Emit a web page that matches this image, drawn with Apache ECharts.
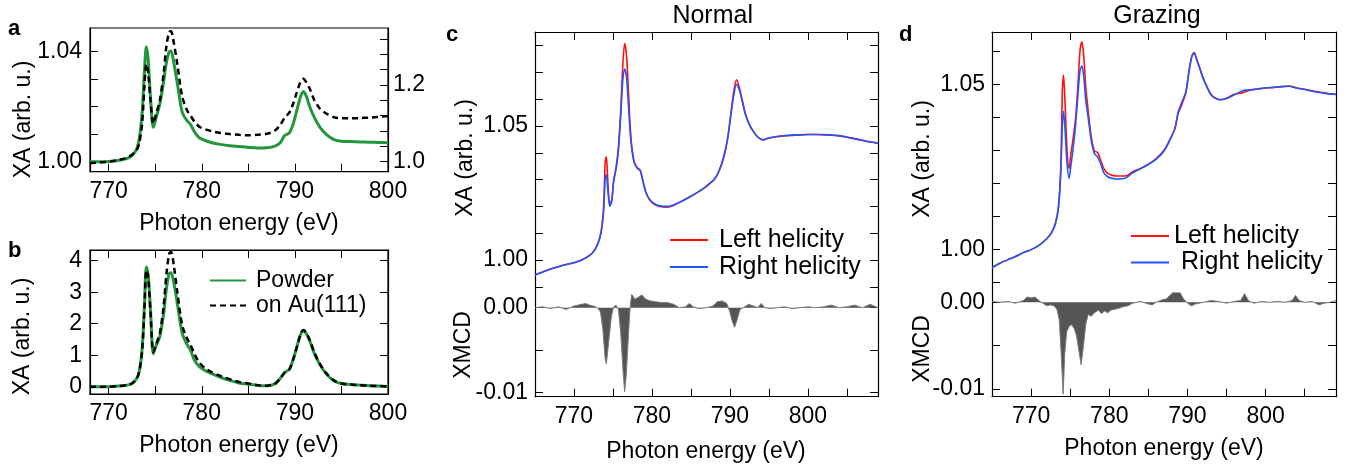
<!DOCTYPE html>
<html>
<head>
<meta charset="utf-8">
<script src="https://cdn.jsdelivr.net/npm/echarts@6/dist/echarts.min.js"></script>
<style>
html,body{margin:0;padding:0;background:#fff}
#chart{width:1351px;height:466px}
</style>
</head>
<body>
<div id="chart"></div>
<script>
// ---- panels a / b : powder vs monolayer on Au(111) ----
var abEnergy = [
  768, 769, 770, 771, 772,
  772.5, 773, 773.3, 773.6, 773.85,
  774.05, 774.25, 774.5, 774.8, 775.1,
  775.5, 775.9, 776.2, 776.5, 776.7,
  777.0, 777.4, 777.9, 778.4, 778.8,
  779.2, 779.7, 780.3, 781, 782,
  783, 784, 785, 786, 787,
  787.8, 788.4, 788.9, 789.4, 789.8,
  790.2, 790.6, 790.9, 791.2, 791.6,
  792.1, 792.7, 793.4, 794.2, 795,
  796, 797, 798, 799, 800
];
var aPowder = [
  1.0000, 1.0000, 1.0001, 1.0004, 1.0012,
  1.0022, 1.0045, 1.0085, 1.0180, 1.0330,
  1.0418, 1.0370, 1.0230, 1.0125, 1.0160,
  1.0210, 1.0290, 1.0360, 1.0400, 1.0403,
  1.0360, 1.0280, 1.0180, 1.0150, 1.0135,
  1.0110, 1.0088, 1.0078, 1.0070, 1.0063,
  1.0058, 1.0055, 1.0052, 1.0050, 1.0051,
  1.0056, 1.0068, 1.0095, 1.0105, 1.0135,
  1.0185, 1.0235, 1.0255, 1.0240, 1.0200,
  1.0160, 1.0125, 1.0098, 1.0080, 1.0074,
  1.0073, 1.0072, 1.0071, 1.0070, 1.0069
];
var aAu = [
  0.996, 0.998, 1.000, 1.004, 1.011,
  1.018, 1.030, 1.050, 1.100, 1.200,
  1.255, 1.230, 1.160, 1.100, 1.125,
  1.160, 1.230, 1.300, 1.338, 1.340,
  1.310, 1.250, 1.170, 1.135, 1.120,
  1.105, 1.092, 1.085, 1.080, 1.075,
  1.072, 1.070, 1.069, 1.070, 1.073,
  1.080, 1.095, 1.115, 1.128, 1.150,
  1.180, 1.208, 1.216, 1.208, 1.190,
  1.160, 1.138, 1.125, 1.116, 1.113,
  1.113, 1.114, 1.115, 1.117, 1.119
];
var bPowder = [
  0.00, 0.00, 0.00, 0.02, 0.05,
  0.10, 0.25, 0.50, 1.20, 2.60,
  3.80, 3.55, 2.40, 1.05, 1.30,
  1.60, 2.30, 3.10, 3.60, 3.62,
  3.30, 2.60, 1.70, 1.35, 1.15,
  0.85, 0.65, 0.52, 0.42, 0.30,
  0.20, 0.12, 0.08, 0.04, 0.03,
  0.08, 0.25, 0.45, 0.55, 0.85,
  1.25, 1.65, 1.78, 1.70, 1.45,
  1.05, 0.70, 0.40, 0.18, 0.10,
  0.07, 0.05, 0.03, 0.02, 0.01
];
var bAu = [
  0.00, 0.00, 0.00, 0.02, 0.05,
  0.10, 0.25, 0.50, 1.15, 2.50,
  3.70, 3.45, 2.35, 1.10, 1.35,
  1.70, 2.55, 3.55, 4.22, 4.28,
  3.85, 2.95, 1.95, 1.55, 1.32,
  1.05, 0.78, 0.60, 0.47, 0.34,
  0.24, 0.15, 0.10, 0.05, 0.03,
  0.08, 0.25, 0.45, 0.55, 0.85,
  1.25, 1.65, 1.80, 1.72, 1.48,
  1.08, 0.72, 0.42, 0.20, 0.10,
  0.07, 0.05, 0.03, 0.02, 0.01
];

// ---- panel c : normal incidence ----
var cEnergy = [
  765, 766, 767, 768, 769,
  770, 771, 772, 772.6, 773.1,
  773.5, 773.8, 774.0, 774.15, 774.35,
  774.6, 774.85, 775.1, 775.4, 775.7,
  776.0, 776.25, 776.5, 776.75, 777.0,
  777.3, 777.7, 778.1, 778.5, 778.8,
  779.2, 779.7, 780.3, 781, 782,
  783, 784, 785, 786, 787,
  788, 788.6, 789.2, 789.7, 790.1,
  790.5, 790.85, 791.2, 791.6, 792.0,
  792.5, 793, 793.6, 794.2, 795,
  796, 797, 798, 799, 800,
  801, 802, 803, 804, 805,
  806, 807, 808, 809
];
var cLeft = [
  0.9944, 0.9955, 0.9966, 0.9975, 0.9983,
  0.9990, 1.0000, 1.0017, 1.0035, 1.0065,
  1.0110, 1.0200, 1.0360, 1.0385, 1.0290,
  1.0205, 1.0225, 1.0300, 1.0345, 1.0420,
  1.0560, 1.0720, 1.0808, 1.0760, 1.0620,
  1.0460, 1.0370, 1.0345, 1.0335, 1.0300,
  1.0255, 1.0225, 1.0208, 1.0200, 1.0197,
  1.0207, 1.0222, 1.0238, 1.0255, 1.0275,
  1.0300, 1.0330, 1.0380, 1.0450, 1.0540,
  1.0630, 1.0672, 1.0645, 1.0595, 1.0545,
  1.0505, 1.0480, 1.0458, 1.0448, 1.0455,
  1.0460, 1.0463, 1.0465, 1.0467, 1.0468,
  1.0468, 1.0467, 1.0466, 1.0463, 1.0458,
  1.0452, 1.0446, 1.0440, 1.0435
];
var cRight = [
  0.9944, 0.9955, 0.9966, 0.9975, 0.9983,
  0.9990, 1.0000, 1.0017, 1.0035, 1.0063,
  1.0105, 1.0180, 1.0300, 1.0318, 1.0260,
  1.0200, 1.0220, 1.0295, 1.0340, 1.0410,
  1.0540, 1.0665, 1.0712, 1.0680, 1.0570,
  1.0445, 1.0365, 1.0343, 1.0333, 1.0300,
  1.0255, 1.0226, 1.0210, 1.0202, 1.0200,
  1.0208, 1.0222, 1.0238, 1.0255, 1.0276,
  1.0302, 1.0333, 1.0385, 1.0452, 1.0535,
  1.0615, 1.0655, 1.0635, 1.0590, 1.0542,
  1.0505, 1.0480, 1.0458, 1.0449, 1.0455,
  1.0461, 1.0464, 1.0466, 1.0467, 1.0468,
  1.0468, 1.0468, 1.0466, 1.0464, 1.0459,
  1.0453, 1.0447, 1.0441, 1.0436
];
var cXmcdEnergy = [
  765, 766, 767, 768, 769,
  770, 771, 771.5, 772, 772.5,
  773, 773.4, 773.7, 774.0, 774.15,
  774.4, 774.8, 775.1, 775.4, 775.7,
  776.0, 776.3, 776.5, 776.7, 777.0,
  777.2, 777.4, 777.8, 778.2, 778.7,
  779.2, 779.8, 780.5, 781.2, 782,
  782.8, 783.5, 784.3, 784.8, 785.3,
  786, 787, 787.8, 788.4, 789,
  789.6, 790.0, 790.3, 790.6, 790.9,
  791.3, 791.7, 792.4, 793, 793.6,
  794, 794.5, 795.2, 796, 797,
  798, 799, 800, 801, 802,
  803, 804, 805, 806, 807,
  808, 809
];
var cXmcd = [
  0.0000, 0.0001, -0.0001, 0.0001, -0.0002,
  0.0002, 0.0004, 0.0005, 0.0003, 0.0002,
  0.0000, -0.0005, -0.0025, -0.0060, -0.0066,
  -0.0045, -0.0010, 0.0001, 0.0003, -0.0002,
  -0.0030, -0.0075, -0.0099, -0.0080, -0.0030,
  0.0000, 0.0016, 0.0010, 0.0012, 0.0015,
  0.0010, 0.0008, 0.0007, 0.0006, 0.0006,
  0.0004, 0.0000, 0.0001, 0.0005, 0.0001,
  -0.0001, 0.0000, 0.0002, 0.0007, 0.0008,
  0.0005, -0.0005, -0.0016, -0.0023, -0.0015,
  -0.0002, 0.0000, 0.0004, 0.0002, 0.0000,
  0.0005, 0.0000, -0.0001, 0.0000, 0.0001,
  -0.0001, 0.0000, 0.0001, 0.0000, 0.0001,
  0.0003, 0.0000, 0.0001, 0.0003, 0.0000,
  0.0004, 0.0000
];

// ---- panel d : grazing incidence ----
var dEnergy = [
  765, 766, 767, 768, 769,
  770, 771, 772, 772.6, 773.1,
  773.5, 773.8, 774.0, 774.15, 774.35,
  774.6, 774.85, 775.1, 775.4, 775.7,
  776.0, 776.25, 776.5, 776.75, 777.0,
  777.3, 777.7, 778.1, 778.5, 778.9,
  779.3, 779.8, 780.4, 781, 782,
  783, 784, 785, 786, 787,
  787.8, 788.4, 788.8, 789.3, 789.8,
  790.2, 790.55, 790.85, 791.2, 791.6,
  792.0, 792.5, 793, 793.6, 794.2,
  795, 796, 797, 798, 799,
  800, 801, 802, 803, 804,
  805, 806, 807, 808, 809
];
var dLeft = [
  0.9944, 0.9958, 0.9968, 0.9978, 0.9990,
  0.9999, 1.0012, 1.0032, 1.0050, 1.0078,
  1.0130, 1.0250, 1.0480, 1.0528, 1.0440,
  1.0300, 1.0245, 1.0290, 1.0340, 1.0400,
  1.0500, 1.0600, 1.0629, 1.0580, 1.0490,
  1.0420, 1.0340, 1.0298, 1.0294, 1.0270,
  1.0245, 1.0230, 1.0224, 1.0222, 1.0222,
  1.0235, 1.0245, 1.0258, 1.0275, 1.0300,
  1.0335, 1.0365, 1.0410, 1.0440, 1.0475,
  1.0540, 1.0585, 1.0596, 1.0575, 1.0548,
  1.0520, 1.0493, 1.0470, 1.0458, 1.0454,
  1.0458, 1.0470, 1.0474, 1.0482, 1.0486,
  1.0489, 1.0490, 1.0493, 1.0495, 1.0489,
  1.0485, 1.0480, 1.0476, 1.0472, 1.0470
];
var dRight = [
  0.9944, 0.9958, 0.9968, 0.9978, 0.9990,
  0.9999, 1.0012, 1.0032, 1.0050, 1.0076,
  1.0125, 1.0235, 1.0380, 1.0418, 1.0360,
  1.0260, 1.0215, 1.0255, 1.0310, 1.0380,
  1.0470, 1.0540, 1.0556, 1.0520, 1.0450,
  1.0400, 1.0330, 1.0290, 1.0280, 1.0260,
  1.0232, 1.0220, 1.0215, 1.0213, 1.0215,
  1.0232, 1.0244, 1.0257, 1.0273, 1.0298,
  1.0333, 1.0368, 1.0415, 1.0447, 1.0478,
  1.0540, 1.0583, 1.0594, 1.0573, 1.0546,
  1.0518, 1.0491, 1.0468, 1.0457, 1.0453,
  1.0457, 1.0468, 1.0480, 1.0483, 1.0486,
  1.0489, 1.0491, 1.0493, 1.0494, 1.0488,
  1.0484, 1.0479, 1.0475, 1.0471, 1.0469
];
var dXmcdEnergy = [
  765, 766, 767, 768, 769,
  769.5, 770, 770.5, 771, 771.5,
  772, 772.5, 772.9, 773.3, 773.6,
  773.85, 774.1, 774.3, 774.55, 774.9,
  775.2, 775.5, 775.8, 776.1, 776.4,
  776.7, 777.0, 777.3, 777.7, 778.1,
  778.6, 779.0, 779.4, 779.8, 780.2,
  780.7, 781.2, 781.8, 782.4, 783,
  784, 785, 785.5, 786, 786.8,
  787.3, 788, 788.5, 789, 789.5,
  790, 790.5, 791, 792, 793,
  794, 795, 796, 796.8, 797.3,
  797.8, 798.5, 799.5, 800.5, 801.5,
  802.5, 803.4, 803.8, 804.3, 805,
  806, 806.8, 807.5, 808.2, 809
];
var dXmcd = [
  0.0001, 0.0000, 0.0001, -0.0001, 0.0002,
  0.0006, 0.0005, 0.0006, 0.0002, -0.0001,
  -0.0004, -0.0003, -0.0004, -0.0008, -0.0020,
  -0.0060, -0.0106, -0.0060, -0.0034, -0.0027,
  -0.0026, -0.0030, -0.0038, -0.0055, -0.0072,
  -0.0050, -0.0025, -0.0014, -0.0016, -0.0012,
  -0.0009, -0.0013, -0.0010, -0.0012, -0.0009,
  -0.0008, -0.0007, -0.0005, -0.0004, -0.0001,
  0.0001, -0.0002, -0.0003, 0.0000, 0.0003,
  0.0004, 0.0010, 0.0016, 0.0012, 0.0004,
  -0.0001, -0.0004, -0.0002, 0.0000, 0.0002,
  0.0001, -0.0001, 0.0001, 0.0002, 0.0010,
  0.0002, -0.0001, 0.0001, 0.0000, 0.0001,
  0.0000, 0.0002, 0.0008, 0.0002, 0.0000,
  0.0001, -0.0003, -0.0001, 0.0000, 0.0002
];

// ---- ticks / labels ----
var abXTicks = [770, 775, 780, 785, 790, 795, 800];
var abXLabels = [770, 780, 790, 800];
var aLeftTicks = [1.00, 1.01, 1.02, 1.03, 1.04];
var aLeftLabels = [1.00, 1.04];
var aRightTicks = [1.00, 1.04, 1.08, 1.12, 1.16, 1.20, 1.24, 1.28, 1.32];
var aRightLabels = [1.0, 1.2];
var bTicks = [0, 1, 2, 3, 4];
var cdXTicks = [765, 770, 775, 780, 785, 790, 795, 800, 805];
var cdXLabels = [770, 780, 790, 800];
var cXaTicks = [0.99, 1.00, 1.01, 1.02, 1.03, 1.04, 1.05, 1.06, 1.07, 1.08];
var dXaTicks = [0.99, 1.00, 1.01, 1.02, 1.03, 1.04, 1.05, 1.06];
var xaLabels = [1.00, 1.05];
var xmcdTicks = [0, -0.005, -0.01];
var xmcdLabels = [0, -0.01];

var FONT = 'Liberation Sans';
var GREEN = '#23963c';
var RED = '#ff1010';
var BLUE = '#1f56ff';

function zip(xs, ys) {
  return xs.map(function (x, i) { return [x, ys[i]]; });
}

function xAx(grid, min, max, pos, ticks, labels) {
  return {
    type: 'value', gridIndex: grid, min: min, max: max, position: pos,
    axisLine: { show: true, onZero: false, lineStyle: { color: '#000', width: 1.2 } },
    axisTick: { show: true, inside: true, length: 8, customValues: ticks, lineStyle: { color: '#000', width: 1 } },
    axisLabel: { show: labels.length > 0, customValues: labels, margin: 8, fontSize: 23, fontFamily: FONT, color: '#000' },
    splitLine: { show: false }
  };
}

function yAx(grid, min, max, pos, ticks, labels, digits, margin) {
  return {
    type: 'value', gridIndex: grid, min: min, max: max, position: pos,
    axisLine: { show: true, onZero: false, lineStyle: { color: '#000', width: 1.2 } },
    axisTick: { show: true, inside: true, length: 8, customValues: ticks, lineStyle: { color: '#000', width: 1 } },
    axisLabel: {
      show: labels.length > 0, customValues: labels, margin: margin, fontSize: 23, fontFamily: FONT, color: '#000',
      formatter: function (v) { return v.toFixed(digits); }
    },
    splitLine: { show: false }
  };
}

function line(name, x, y, data, color, width, dash, smooth) {
  return {
    type: 'line', name: name, xAxisIndex: x, yAxisIndex: y, data: data,
    symbol: 'none', smooth: smooth, animation: false,
    lineStyle: { color: color, width: width, type: dash || 'solid' },
    itemStyle: { color: color }
  };
}

function area(x, y, data) {
  return {
    type: 'line', xAxisIndex: x, yAxisIndex: y, data: data,
    symbol: 'none', animation: false,
    lineStyle: { color: '#7a7a7a', width: 1 },
    areaStyle: { color: '#555555', opacity: 1, origin: 0 }
  };
}

function text(x, y, s, size, extra) {
  var el = {
    type: 'text', x: x, y: y,
    style: { text: s, fontSize: size, fontFamily: FONT, fill: '#000', align: 'center', verticalAlign: 'middle' }
  };
  if (extra) {
    if (extra.rotate) el.rotation = Math.PI / 2;
    if (extra.bold) el.style.fontWeight = 'bold';
    if (extra.left) el.style.align = 'left';
  }
  return el;
}

function legendAt(names, left, top, width, gap, size, pad, fmt) {
  var lg = {
    data: names, orient: 'vertical', left: left, top: top, padding: 0,
    itemWidth: width, itemHeight: 14, itemGap: gap, selectedMode: false,
    itemStyle: { opacity: 0 },
    textStyle: { fontSize: size, fontFamily: FONT, color: '#000', padding: [0, 0, 0, pad] }
  };
  if (fmt) lg.formatter = fmt;
  return lg;
}

var chart = echarts.init(document.getElementById('chart'));

var option = {
  backgroundColor: '#fff',
  animation: false,
  grid: [
    { left: 90, top: 28, width: 298, height: 143.7, show: true, borderColor: '#000', borderWidth: 1.2 },
    { left: 90, top: 250, width: 298, height: 144, show: true, borderColor: '#000', borderWidth: 1.2 },
    { left: 535, top: 32, width: 343, height: 263 },
    { left: 535, top: 295, width: 343, height: 101.7 },
    { left: 992, top: 32, width: 344, height: 261 },
    { left: 992, top: 293, width: 344, height: 103.7 }
  ],
  xAxis: [
    xAx(0, 768, 800, 'bottom', abXTicks, abXLabels),
    xAx(1, 768, 800, 'bottom', abXTicks, abXLabels),
    xAx(1, 768, 800, 'top', abXTicks, []),
    xAx(2, 765, 809, 'top', cdXTicks, []),
    xAx(3, 765, 809, 'bottom', cdXTicks, cdXLabels),
    xAx(4, 765, 809, 'top', cdXTicks, []),
    xAx(5, 765, 809, 'bottom', cdXTicks, cdXLabels)
  ],
  yAxis: [
    yAx(0, 0.99636, 1.04862, 'left', aLeftTicks, aLeftLabels, 2, 8),
    yAx(0, 0.97393, 1.34863, 'right', aRightTicks, aRightLabels, 1, 5),
    yAx(1, -0.2317, 4.34, 'left', bTicks, bTicks, 0, 8),
    yAx(1, -0.2317, 4.34, 'right', bTicks, [], 0, 8),
    yAx(2, 0.98694, 1.08507, 'left', cXaTicks, xaLabels, 2, 7),
    yAx(2, 0.98694, 1.08507, 'right', cXaTicks, [], 2, 7),
    yAx(3, -0.010471, 0.001494, 'left', xmcdTicks, xmcdLabels, 2, 7),
    yAx(3, -0.010471, 0.001494, 'right', xmcdTicks, [], 2, 7),
    yAx(4, 0.98676, 1.06585, 'left', dXaTicks, xaLabels, 2, 7),
    yAx(4, 0.98676, 1.06585, 'right', dXaTicks, [], 2, 7),
    yAx(5, -0.010888, 0.001073, 'left', xmcdTicks, xmcdLabels, 2, 7),
    yAx(5, -0.010888, 0.001073, 'right', xmcdTicks, [], 2, 7)
  ],
  legend: [
    legendAt(['Powder', 'on Au(111)'], 209, 269, 36, 2, 23, 5),
    legendAt(['Left helicity', 'Right helicity'], 669, 227.5, 38, 2, 25, 6),
    legendAt(['Left helicity', 'Right helicity'], 1130, 223.5, 38, 1.5, 25, 0,
      function (n) { return n === 'Right helicity' ? ' ' + n : n; })
  ],
  series: [
    line('Powder', 0, 0, zip(abEnergy, aPowder), GREEN, 3, 'solid', 0.3),
    line('on Au(111)', 0, 1, zip(abEnergy, aAu), '#000', 2.5, [6, 4], 0.3),
    line('Powder', 1, 2, zip(abEnergy, bPowder), GREEN, 3, 'solid', 0.3),
    line('on Au(111)', 1, 2, zip(abEnergy, bAu), '#000', 2.5, [6, 4], 0.3),
    line('Left helicity', 3, 4, zip(cEnergy, cLeft), RED, 1.6, 'solid', 0.3),
    line('Right helicity', 3, 4, zip(cEnergy, cRight), BLUE, 1.6, 'solid', 0.3),
    area(4, 6, zip(cXmcdEnergy, cXmcd)),
    line('Left helicity', 5, 8, zip(dEnergy, dLeft), RED, 1.6, 'solid', 0.3),
    line('Right helicity', 5, 8, zip(dEnergy, dRight), BLUE, 1.6, 'solid', 0.3),
    area(6, 10, zip(dXmcdEnergy, dXmcd))
  ],
  graphic: [
    text(8, 29, 'a', 22, { bold: true, left: true }),
    text(8, 250.5, 'b', 22, { bold: true, left: true }),
    text(446, 35, 'c', 22, { bold: true, left: true }),
    text(899, 35, 'd', 22, { bold: true, left: true }),
    text(712.7, 16.5, 'Normal', 25),
    text(1157, 16.5, 'Grazing', 25),
    text(24, 119.5, 'XA (arb. u.)', 23, { rotate: true }),
    text(23, 336.5, 'XA (arb. u.)', 23, { rotate: true }),
    text(466, 158, 'XA (arb. u.)', 23, { rotate: true }),
    text(464, 345, 'XMCD', 23, { rotate: true }),
    text(923, 159, 'XA (arb. u.)', 23, { rotate: true }),
    text(922.5, 349, 'XMCD', 23, { rotate: true }),
    text(239, 224, 'Photon energy (eV)', 23),
    text(239, 446, 'Photon energy (eV)', 23),
    text(706, 452, 'Photon energy (eV)', 23),
    text(1164, 449, 'Photon energy (eV)', 23)
  ]
};

chart.setOption(option);
</script>
</body>
</html>
